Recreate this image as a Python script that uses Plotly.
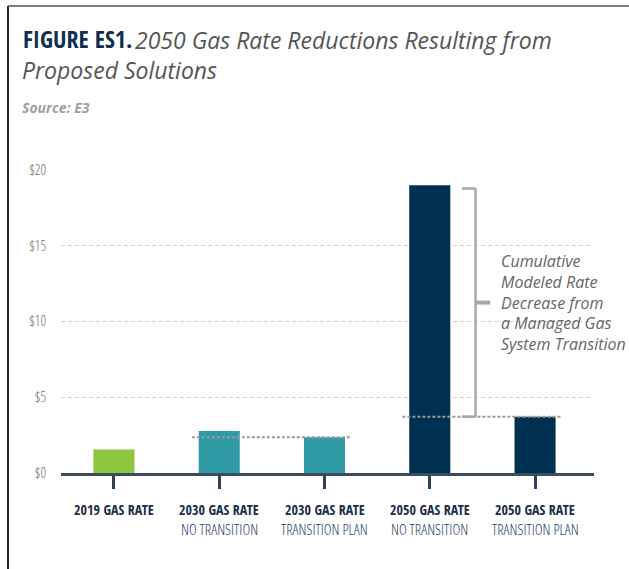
import plotly.graph_objects as go

# ---- data ----
categories = ["2019 GAS RATE", "2030 GAS RATE", "2030 GAS RATE", "2050 GAS RATE", "2050 GAS RATE"]
subtitles = ["", "NO TRANSITION", "TRANSITION PLAN", "NO TRANSITION", "TRANSITION PLAN"]
values = [1.55, 2.78, 2.36, 19.0, 3.72]
bar_colors = ["#8dc63f", "#319ba5", "#319ba5", "#00304f", "#00304f"]
y_ticks = [0, 5, 10, 15, 20]
y_tick_labels = ["$0", "$5", "$10", "$15", "$20"]
bracket_text = ["Cumulative", "Modeled Rate", "Decrease from", "a Managed Gas", "System Transition"]

W, H = 629, 569
L, R, T, B = 61, 35, 170, 96
PW, PH = W - L - R, H - T - B

def px(x):
    return (x - L) / PW

def py(y):
    return (H - B - y) / PH

COND = "Open Sans Condensed, Roboto, sans-serif"
LIGHT = "Open Sans Condensed Light, DejaVu Sans Condensed, Roboto, sans-serif"
ITAL = "Open Sans, sans-serif"

xs = list(range(len(categories)))
fig = go.Figure()
fig.add_trace(go.Bar(x=xs, y=values, marker=dict(color=bar_colors, line=dict(width=0)),
                     width=0.39, hoverinfo="skip"))

shapes = []
for i_plan in (2, 4):
    shapes.append(dict(type="line", xref="x", yref="y", x0=i_plan - 1.26, x1=i_plan + 0.26,
                       y0=values[i_plan], y1=values[i_plan],
                       line=dict(color="#9a9a9a", width=2, dash="3px,2px"), layer="above"))
top = values[3] - 0.22
bot = values[4]
bx = 3.435
bcol = "#a8a8a8"
shapes += [
    dict(type="line", xref="x", yref="y", x0=3.305, x1=bx, y0=top, y1=top, line=dict(color=bcol, width=2.5)),
    dict(type="line", xref="x", yref="y", x0=bx, x1=bx, y0=top, y1=bot, line=dict(color=bcol, width=2.5)),
    dict(type="line", xref="x", yref="y", x0=3.305, x1=bx, y0=bot, y1=bot, line=dict(color=bcol, width=2.5)),
    dict(type="line", xref="x", yref="y", x0=bx, x1=3.575, y0=(top + bot) / 2, y1=(top + bot) / 2,
         line=dict(color=bcol, width=4)),
]
shapes += [
    dict(type="line", xref="paper", yref="paper", x0=px(8), x1=px(8), y0=py(6), y1=py(569),
         line=dict(color="#222222", width=2)),
    dict(type="line", xref="paper", yref="paper", x0=px(8), x1=px(629), y0=py(6), y1=py(6),
         line=dict(color="#555555", width=1.5)),
]

annotations = []
for i, (c, s) in enumerate(zip(categories, subtitles)):
    annotations.append(dict(x=i, y=py(509), xref="x", yref="paper", text="<b>%s</b>" % c,
                            showarrow=False, xanchor="center", yanchor="middle",
                            font=dict(family=COND, size=14, color="#1c2d48")))
    if s:
        annotations.append(dict(x=i, y=py(529), xref="x", yref="paper", text=s,
                                showarrow=False, xanchor="center", yanchor="middle",
                                font=dict(family=LIGHT, size=15, color="#1f436b")))

annotations.append(dict(x=px(499), y=(top + bot) / 2, xref="paper", yref="y",
                        text="<i>" + "<br>".join(bracket_text) + "</i>", align="left", showarrow=False,
                        xanchor="left", yanchor="middle",
                        font=dict(family=ITAL, size=16, color="#666666")))
annotations += [
    dict(x=px(21), y=py(38), xref="paper", yref="paper", text="<b>FIGURE ES1.</b>", showarrow=False,
         xanchor="left", yanchor="middle", font=dict(family=COND, size=24, color="#0f2f52")),
    dict(x=px(133), y=py(40), xref="paper", yref="paper", text="<i>2050 Gas Rate Reductions Resulting from</i>",
         showarrow=False, xanchor="left", yanchor="middle", font=dict(family=ITAL, size=23, color="#555555")),
    dict(x=px(20), y=py(70), xref="paper", yref="paper", text="<i>Proposed Solutions</i>",
         showarrow=False, xanchor="left", yanchor="middle", font=dict(family=ITAL, size=23, color="#555555")),
    dict(x=px(20), y=py(107), xref="paper", yref="paper", text="<i><b>Source: E3</b></i>",
         showarrow=False, xanchor="left", yanchor="middle", font=dict(family=ITAL, size=14, color="#a0a0a0")),
]

fig.update_layout(
    width=W, height=H, margin=dict(l=L, r=R, t=T, b=B, autoexpand=False),
    paper_bgcolor="white", plot_bgcolor="white", showlegend=False,
    shapes=shapes, annotations=annotations,
    xaxis=dict(range=[-0.503, 4.56], tickvals=xs, ticktext=[""] * len(xs), showgrid=False,
               showline=True, linecolor="#3b4d5c", linewidth=3, ticks="outside", ticklen=13,
               tickwidth=2.5, tickcolor="#2e4257", zeroline=False, fixedrange=True),
    yaxis=dict(range=[0, 20], tickvals=y_ticks, ticktext=y_tick_labels, showgrid=True,
               gridcolor="#d0d0d0", griddash="4px,3px", gridwidth=1, zeroline=False, showline=False,
               ticks="", ticklabelstandoff=14,
               tickfont=dict(family=LIGHT, size=14, color="#6e6e6e"), fixedrange=True),
)

fig.write_html("out.html", config={"displayModeBar": False},
               post_script="document.body.style.margin='0';")
